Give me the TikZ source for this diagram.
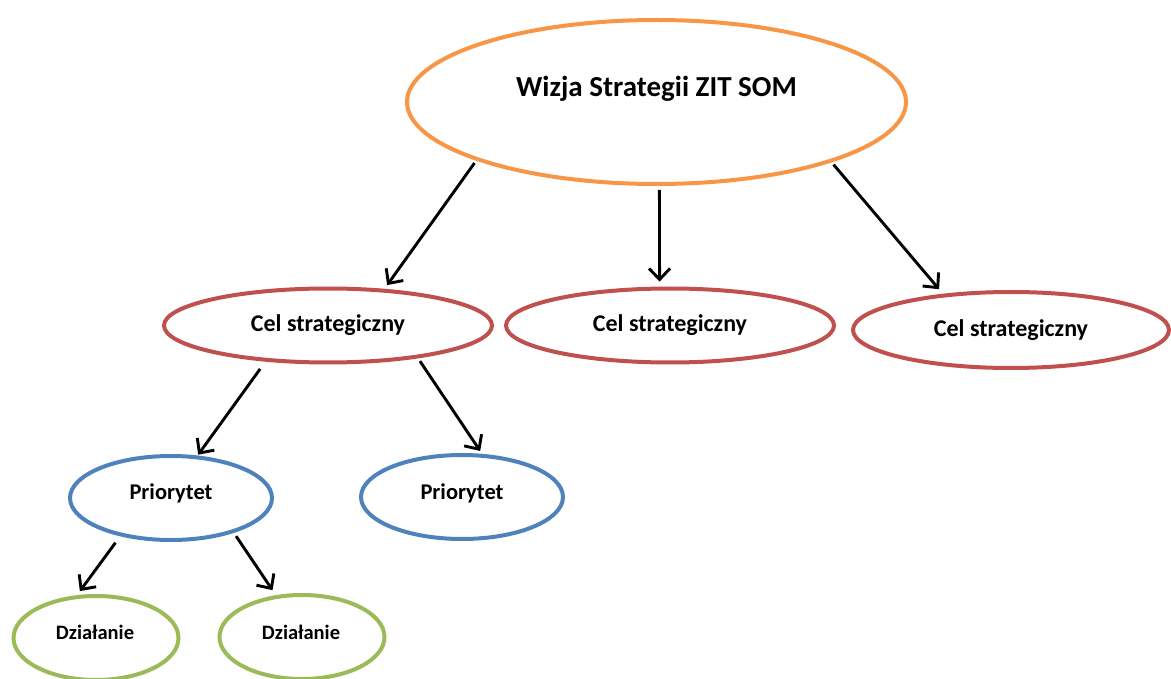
\documentclass[tikz,border=0pt]{standalone}
\usepackage{fontspec}
\setmainfont{Carlito}
\usepackage{tikz}
\usetikzlibrary{shapes.geometric,arrows.meta}

\definecolor{visionOrange}{HTML}{F79646}
\definecolor{goalRed}{HTML}{C0504D}
\definecolor{priorityBlue}{HTML}{4F81BD}
\definecolor{actionGreen}{HTML}{9BBB59}

\begin{document}
\begin{tikzpicture}[%
    x=1pt, y=-1pt,
    vision/.style={%
        draw=visionOrange,
        ellipse,
        line width=4pt,
        inner sep=0pt,
        minimum width=499pt,
        minimum height=164pt
    },
    goal/.style={%
        draw=goalRed,
        ellipse,
        line width=4pt,
        inner sep=0pt,
        minimum width=328pt,
        minimum height=74pt,
        font=\bfseries\fontsize{24}{28}\selectfont
    },
    priority/.style={%
        draw=priorityBlue,
        ellipse,
        line width=4pt,
        inner sep=0pt,
        minimum width=202pt,
        minimum height=84pt
    },
    action/.style={%
        draw=actionGreen,
        ellipse,
        line width=4pt,
        inner sep=0pt,
        minimum width=165pt,
        minimum height=84pt
    },
    visionLabel/.style={font=\bfseries\fontsize{29}{33}\selectfont},
    priorityLabel/.style={font=\bfseries\fontsize{22.5}{26}\selectfont},
    actionLabel/.style={font=\bfseries\fontsize{20.5}{24}\selectfont},
    link/.style={%
        line width=2.9pt,
        -{Straight Barb[length=11pt,width=21pt]}
    }
]
\useasboundingbox (0,0) rectangle (1171,679);

% Vision
    \node[vision] (vision) at (656.5,102) {};
    \node[visionLabel] (visionText) at (656.5,89) {Wizja Strategii ZIT SOM};

% Strategic goals
    \node[goal] (goal1) at (328,325.5) {Cel strategiczny};
    \node[goal] (goal2) at (670,325.5) {Cel strategiczny};
    \node[goal, minimum width=316pt, minimum height=76pt] (goal3) at (1011,330) {Cel strategiczny};

% Priorities
    \node[priority] (priority1) at (171,498) {};
    \node[priority] (priority2) at (462,497) {};
    \node[priorityLabel] (priority1Text) at (171,493) {Priorytet};
    \node[priorityLabel] (priority2Text) at (462,493) {Priorytet};

% Actions
    \node[action] (action1) at (96,638) {};
    \node[action] (action2) at (302,637) {};
    \node[actionLabel] (action1Text) at (95,632) {Działanie};
    \node[actionLabel] (action2Text) at (301,632) {Działanie};

% Arrows
\draw[link, shorten <=3pt, shorten >=4.6pt] (vision.198.5) -- (goal1.33.3);
\draw[link, shorten <=4pt, shorten >=5pt] (vision.272.4) -- (goal2.105);
\draw[link, shorten <=3pt, shorten >=6pt] (vision.341.5) -- (goal3.152.1);

\draw[link, shorten <=9pt, shorten >=1pt] (goal1.210) -- (priority1.58.8);
\draw[link, shorten <=3.5pt, shorten >=3.5pt] (goal1.340.6) -- (priority2.65);

\draw[link, shorten <=8pt, shorten >=5pt] (priority1.217.6) -- (action1.114.6);
\draw[link, shorten <=4pt, shorten >=6pt] (priority1.331.5) -- (action2.122.2);

\end{tikzpicture}
\end{document}
